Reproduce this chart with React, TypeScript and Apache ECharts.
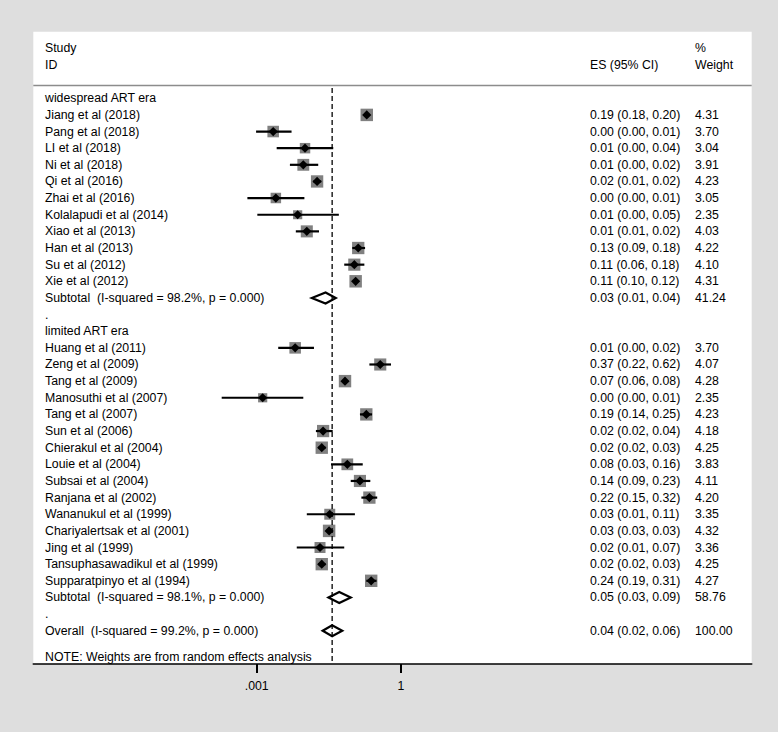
import React, { useEffect, useRef } from 'react';
import * as echarts from 'echarts';

// ---- Column headers ----
const headStudy = ['Study', 'ID'];
const headES = 'ES (95% CI)';
const headWeight = ['%', 'Weight'];

// ---- Group 1: widespread ART era ----
const group1Title = 'widespread ART era';
const group1Studies = [
  'Jiang et al (2018)', 'Pang et al (2018)', 'LI et al (2018)', 'Ni et al (2018)', 'Qi et al (2016)',
  'Zhai et al (2016)', 'Kolalapudi et al (2014)', 'Xiao et al (2013)', 'Han et al (2013)',
  'Su et al (2012)', 'Xie et al (2012)',
];
const group1ES = [0.194, 0.0022, 0.0101, 0.0093, 0.018, 0.0025, 0.0071, 0.011, 0.129, 0.107, 0.114];
const group1Lower = [0.18, 0.00097, 0.0026, 0.0049, 0.015, 0.00064, 0.00103, 0.0065, 0.097, 0.066, 0.10];
const group1Upper = [0.20, 0.0053, 0.039, 0.019, 0.022, 0.0098, 0.051, 0.0197, 0.179, 0.173, 0.12];
const group1Text = [
  '0.19 (0.18, 0.20)', '0.00 (0.00, 0.01)', '0.01 (0.00, 0.04)', '0.01 (0.00, 0.02)', '0.02 (0.01, 0.02)',
  '0.00 (0.00, 0.01)', '0.01 (0.00, 0.05)', '0.01 (0.01, 0.02)', '0.13 (0.09, 0.18)', '0.11 (0.06, 0.18)',
  '0.11 (0.10, 0.12)',
];
const group1Weights = [4.31, 3.70, 3.04, 3.91, 4.23, 3.05, 2.35, 4.03, 4.22, 4.10, 4.31];
const group1Sub = ['Subtotal  (I-squared = 98.2%, p = 0.000)', 0.027, 0.014, 0.044, '0.03 (0.01, 0.04)', 41.24] as const;

// ---- Group 2: limited ART era ----
const group2Title = 'limited ART era';
const group2Studies = [
  'Huang et al (2011)', 'Zeng et al (2009)', 'Tang et al (2009)', 'Manosuthi et al (2007)', 'Tang et al (2007)',
  'Sun et al (2006)', 'Chierakul et al (2004)', 'Louie et al (2004)', 'Subsai et al (2004)', 'Ranjana et al (2002)',
  'Wananukul et al (1999)', 'Chariyalertsak et al (2001)', 'Jing et al (1999)', 'Tansuphasawadikul et al (1999)',
  'Supparatpinyo et al (1994)',
];
const group2ES = [0.0063, 0.37, 0.0685, 0.00133, 0.19, 0.024, 0.0225, 0.0765, 0.14, 0.22, 0.033, 0.032, 0.0207, 0.0225, 0.24];
const group2Lower = [0.0028, 0.22, 0.06, 0.000187, 0.14, 0.017, 0.019, 0.035, 0.09, 0.15, 0.011, 0.028, 0.0068, 0.019, 0.19];
const group2Upper = [0.0155, 0.62, 0.08, 0.0093, 0.25, 0.038, 0.027, 0.16, 0.23, 0.32, 0.11, 0.035, 0.066, 0.027, 0.31];
const group2Text = [
  '0.01 (0.00, 0.02)', '0.37 (0.22, 0.62)', '0.07 (0.06, 0.08)', '0.00 (0.00, 0.01)', '0.19 (0.14, 0.25)',
  '0.02 (0.02, 0.04)', '0.02 (0.02, 0.03)', '0.08 (0.03, 0.16)', '0.14 (0.09, 0.23)', '0.22 (0.15, 0.32)',
  '0.03 (0.01, 0.11)', '0.03 (0.03, 0.03)', '0.02 (0.01, 0.07)', '0.02 (0.02, 0.03)', '0.24 (0.19, 0.31)',
];
const group2Weights = [3.70, 4.07, 4.28, 2.35, 4.23, 4.18, 4.25, 3.83, 4.11, 4.20, 3.35, 4.32, 3.36, 4.25, 4.27];
const group2Sub = ['Subtotal  (I-squared = 98.1%, p = 0.000)', 0.052, 0.031, 0.090, '0.05 (0.03, 0.09)', 58.76] as const;

// ---- Overall ----
const overall = ['Overall  (I-squared = 99.2%, p = 0.000)', 0.037, 0.0235, 0.060, '0.04 (0.02, 0.06)', 100.0] as const;
const noteText = 'NOTE: Weights are from random effects analysis';

// ---- Axis ticks ----
const tickValues = [0.001, 1];
const tickLabels = ['.001', '1'];

type Row = {
  kind: 'colhead' | 'rule' | 'title' | 'study' | 'diamond' | 'dot' | 'note';
  row: number;
  label?: string;
  es?: number;
  lo?: number;
  hi?: number;
  text?: string;
  weight?: number;
  wtext?: string;
  esHead?: string;
};

function buildRows(): Row[] {
  const rows: Row[] = [];
  rows.push({ kind: 'colhead', row: -3, label: headStudy[0], wtext: headWeight[0] });
  rows.push({ kind: 'colhead', row: -2, label: headStudy[1], esHead: headES, wtext: headWeight[1] });
  rows.push({ kind: 'rule', row: -0.76 });
  let r = 0;
  const addGroup = (title: string, names: string[], es: number[], lo: number[], hi: number[], txt: string[], w: number[], sub: readonly any[]) => {
    rows.push({ kind: 'title', row: r++, label: title });
    names.forEach((n, i) => {
      rows.push({ kind: 'study', row: r++, label: n, es: es[i], lo: lo[i], hi: hi[i], text: txt[i], weight: w[i], wtext: w[i].toFixed(2) });
    });
    rows.push({ kind: 'diamond', row: r++, label: sub[0], es: sub[1], lo: sub[2], hi: sub[3], text: sub[4], wtext: sub[5].toFixed(2) });
    rows.push({ kind: 'dot', row: r++, label: '.' });
  };
  addGroup(group1Title, group1Studies, group1ES, group1Lower, group1Upper, group1Text, group1Weights, group1Sub);
  addGroup(group2Title, group2Studies, group2ES, group2Lower, group2Upper, group2Text, group2Weights, group2Sub);
  rows.push({ kind: 'diamond', row: r++, label: overall[0], es: overall[1], lo: overall[2], hi: overall[3], text: overall[4], wtext: overall[5].toFixed(2) });
  rows.push({ kind: 'note', row: r - 1 + 1.56, label: noteText });
  return rows;
}

const FONT = '12.3px "Liberation Sans", Arial, Helvetica, sans-serif';
const LABEL_X = 45;
const ES_X = 590;
const W_X = 695;

export default function App() {
  const ref = useRef<HTMLDivElement>(null);
  useEffect(() => {
    if (!ref.current) return;
    const chart = echarts.init(ref.current, undefined, { renderer: 'svg' });
    const rows = buildRows();
    const xMin = Math.pow(10, -7.645);
    const xMax = Math.pow(10, 7.291);

    const txt = (x: number, y: number, t: string) => ({
      type: 'text',
      x,
      y,
      style: { text: t, fill: '#000', font: FONT, verticalAlign: 'middle', align: 'left' },
    });

    const renderItem = (params: any, api: any) => {
      const r = rows[params.dataIndex];
      const cs = params.coordSys;
      const y = api.coord([1, r.row])[1];
      const children: any[] = [];
      if (r.kind === 'rule') {
        children.push({ type: 'line', shape: { x1: cs.x, y1: y, x2: cs.x + cs.width, y2: y }, style: { stroke: '#8c8c8c', lineWidth: 1.5 } });
      }
      if (r.kind === 'study') {
        const xe = api.coord([r.es, r.row])[0];
        const xl = api.coord([r.lo, r.row])[0];
        const xh = api.coord([r.hi, r.row])[0];
        const s = 6 * Math.sqrt(r.weight as number);
        children.push({ type: 'rect', shape: { x: xe - s / 2, y: y - s / 2, width: s, height: s }, style: { fill: '#808080' } });
        children.push({ type: 'line', shape: { x1: xl, y1: y, x2: xh, y2: y }, style: { stroke: '#000', lineWidth: 2.2 } });
        const d = 4.6;
        children.push({ type: 'polygon', shape: { points: [[xe - d, y], [xe, y - d], [xe + d, y], [xe, y + d]] }, style: { fill: '#000' } });
      }
      if (r.kind === 'diamond') {
        const xe = api.coord([r.es, r.row])[0];
        const xl = api.coord([r.lo, r.row])[0];
        const xh = api.coord([r.hi, r.row])[0];
        const h = 5.5;
        children.push({ type: 'polygon', shape: { points: [[xl, y], [xe, y - h], [xh, y], [xe, y + h]] }, style: { fill: 'none', stroke: '#000', lineWidth: 2.2, lineJoin: 'miter' } });
      }
      if (r.label) children.push(txt(LABEL_X, y, r.label));
      if (r.esHead) children.push(txt(ES_X, y, r.esHead));
      if (r.text) children.push(txt(ES_X, y, r.text));
      if (r.wtext) children.push(txt(W_X, y, r.wtext));
      return { type: 'group', children };
    };

    const lastRow = 34;
    chart.setOption({
      animation: false,
      backgroundColor: '#dedede',
      grid: { left: 33.3, right: 26.3, top: 31.7, bottom: 68, show: true, backgroundColor: '#ffffff', borderWidth: 0 },
      xAxis: {
        type: 'log',
        logBase: 10,
        min: xMin,
        max: xMax,
        axisLine: { show: true, onZero: false, lineStyle: { color: '#000', width: 1.6 } },
        axisTick: { show: true, customValues: tickValues, length: 9, lineStyle: { color: '#000', width: 2 } },
        axisLabel: {
          show: true,
          customValues: tickValues,
          color: '#000',
          fontSize: 12.3,
          fontFamily: '"Liberation Sans", Arial, sans-serif',
          margin: 16,
          formatter: (v: number) => {
            let best = 0;
            tickValues.forEach((t, i) => {
              if (Math.abs(Math.log10(v) - Math.log10(t)) < Math.abs(Math.log10(v) - Math.log10(tickValues[best]))) best = i;
            });
            return tickLabels[best];
          },
        },
        splitLine: { show: false },
      },
      yAxis: { type: 'value', inverse: true, min: -4, max: lastRow, show: false },
      series: [
        {
          type: 'custom',
          renderItem,
          clip: false,
          encode: { x: 0, y: 1 },
          data: rows.map((r) => [r.es ?? 1, r.row]),
          z: 2,
        },
        {
          type: 'line',
          symbol: 'none',
          z: 3,
          lineStyle: { color: '#000', width: 1.3, type: [5, 3] },
          data: [[overall[1], -0.62], [overall[1], lastRow]],
        },
      ],
    });
    return () => chart.dispose();
  }, []);
  return <div ref={ref} style={{ position: 'fixed', left: 0, top: 0, width: 778, height: 732 }} />;
}
